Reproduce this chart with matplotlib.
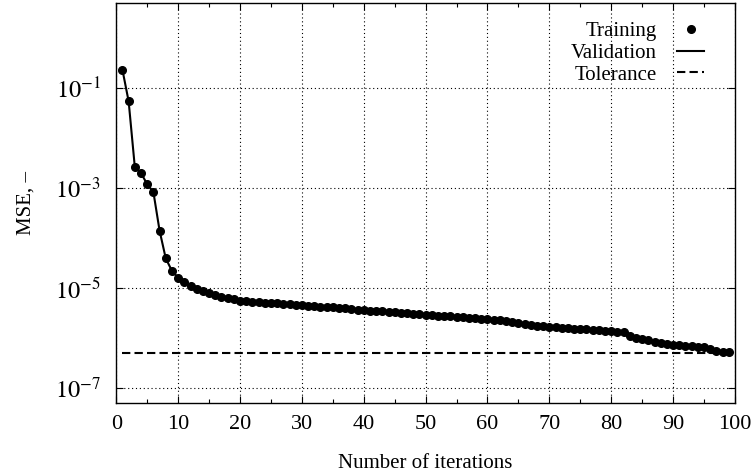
import matplotlib
matplotlib.use('Agg')
import matplotlib.pyplot as plt
import numpy as np
from matplotlib.ticker import FixedLocator, MultipleLocator, NullLocator

plt.rcParams['font.family'] = ['Liberation Serif', 'DejaVu Serif']
plt.rcParams['mathtext.fontset'] = 'stix'
plt.rcParams['font.size'] = 15

# MSE per iteration
iterations = list(range(1, 100))
training = [
    2.3e-1, 5.4e-2, 2.6e-3, 2.0e-3, 1.18e-3, 8.3e-4, 1.4e-4, 3.9e-5, 2.2e-5, 1.6e-5,
    1.3e-5, 1.1e-5, 9.7e-6, 8.7e-6, 7.8e-6, 7.2e-6, 6.7e-6, 6.2e-6, 5.9e-6, 5.6e-6,
    5.45e-6, 5.3e-6, 5.2e-6, 5.1e-6, 5.0e-6, 4.9e-6, 4.8e-6, 4.7e-6, 4.6e-6, 4.5e-6,
    4.4e-6, 4.32e-6, 4.24e-6, 4.16e-6, 4.08e-6, 4.0e-6, 3.9e-6, 3.8e-6, 3.7e-6, 3.6e-6,
    3.53e-6, 3.46e-6, 3.39e-6, 3.32e-6, 3.25e-6, 3.18e-6, 3.11e-6, 3.04e-6, 2.97e-6, 2.9e-6,
    2.85e-6, 2.8e-6, 2.75e-6, 2.7e-6, 2.65e-6, 2.6e-6, 2.55e-6, 2.5e-6, 2.45e-6, 2.4e-6,
    2.32e-6, 2.24e-6, 2.16e-6, 2.06e-6, 1.96e-6, 1.88e-6, 1.81e-6, 1.75e-6, 1.7e-6, 1.66e-6,
    1.63e-6, 1.6e-6, 1.57e-6, 1.54e-6, 1.51e-6, 1.48e-6, 1.45e-6, 1.42e-6, 1.39e-6, 1.36e-6,
    1.34e-6, 1.32e-6, 1.1e-6, 1.02e-6, 9.5e-7, 9.0e-7, 8.5e-7, 8.1e-7, 7.7e-7, 7.4e-7,
    7.2e-7, 7.0e-7, 6.8e-7, 6.7e-7, 6.6e-7, 5.9e-7, 5.6e-7, 5.35e-7, 5.2e-7,
]
validation = list(training)
tolerance = 5e-7

y_ticks = [1e-1, 1e-3, 1e-5, 1e-7]
y_ticklabels = [r'$10^{-1}$', r'$10^{-3}$', r'$10^{-5}$', r'$10^{-7}$']

fig = plt.figure(figsize=(7.56, 4.75), dpi=100)
ax = fig.add_axes([0.1538, 0.1516, 0.8184, 0.8421])

ax.plot(iterations, validation, '-', color='black', lw=1.5, label='Validation', zorder=3)
ax.plot(iterations, training, 'o', color='black', ms=5.5, label='Training', zorder=4)
ax.plot([iterations[0], iterations[-1]], [tolerance, tolerance], color='black', lw=1.5,
        dashes=(4, 2), label='Tolerance', zorder=2)

ax.set_yscale('log')
ax.set_xlim(0, 100)
ax.set_ylim(10 ** -7.3, 10 ** 0.7)
ax.xaxis.set_major_locator(MultipleLocator(10))
ax.xaxis.set_minor_locator(MultipleLocator(5))
ax.yaxis.set_major_locator(FixedLocator(y_ticks))
ax.yaxis.set_minor_locator(NullLocator())
ax.set_yticklabels(y_ticklabels)

ax.tick_params(which='both', direction='in', top=True, right=True, width=0.8)
ax.tick_params(which='major', length=5)
ax.tick_params(which='minor', length=3)
ax.tick_params(axis='y', pad=11, labelsize=17.5)
ax.tick_params(axis='x', pad=9, labelsize=16)
for s in ax.spines.values():
    s.set_linewidth(1.0)

ax.grid(True, which='major', linestyle=(0, (1, 2.5)), color='black', lw=0.8)

ax.set_xlabel('Number of iterations', labelpad=14)
ax.set_ylabel('MSE, –', labelpad=14)

h, l = ax.get_legend_handles_labels()
order = [1, 0, 2]
ax.legend([h[i] for i in order], [l[i] for i in order], loc='upper right',
          frameon=False, markerfirst=False, handlelength=1.3, handletextpad=1.0,
          labelspacing=0.1, borderaxespad=0.5, numpoints=1,
          bbox_to_anchor=(0.981, 1.0))

fig.savefig('out.png', dpi=100)
